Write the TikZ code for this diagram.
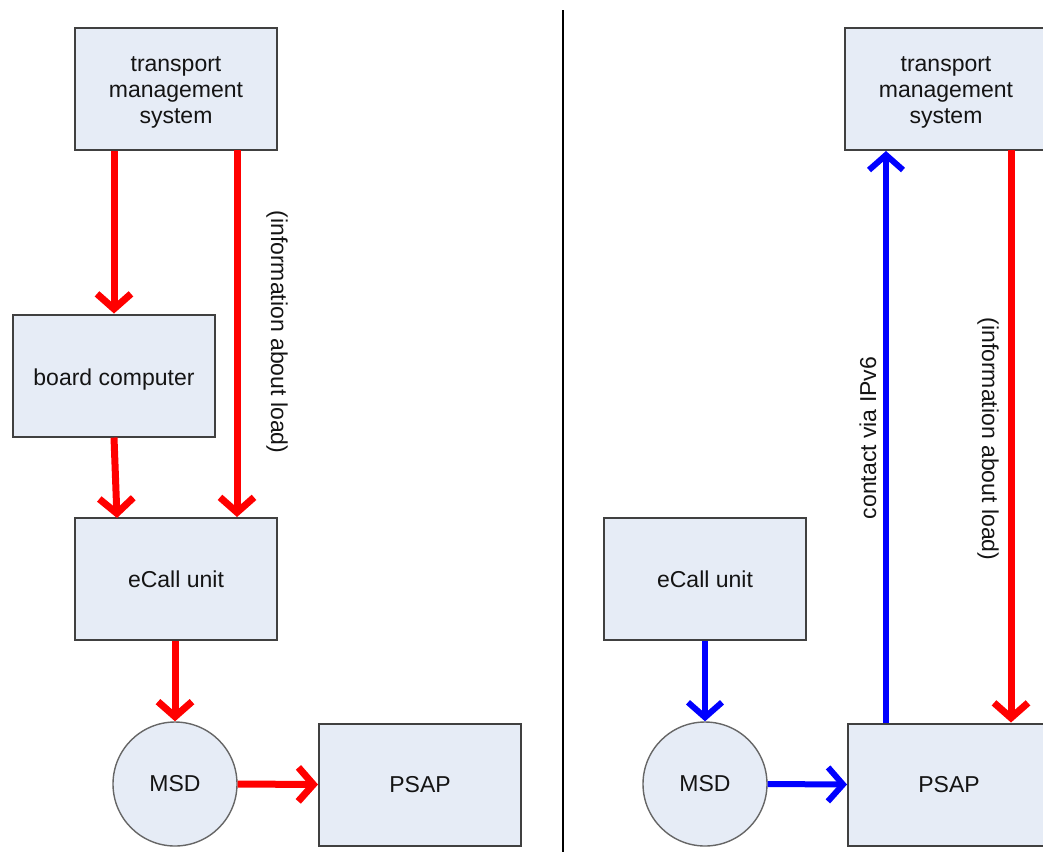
\documentclass[tikz,border=0pt]{standalone}
\usepackage{fontspec}
\setmainfont{Liberation Sans}
\usetikzlibrary{arrows.meta,calc}
\definecolor{boxfill}{HTML}{E6ECF6}
\definecolor{boxline}{HTML}{404040}
\definecolor{txt}{HTML}{141414}
\newcommand{\stacklines}[1]{\raisebox{-10pt}[0pt][0pt]{\begin{tabular}{@{}c@{}}#1\end{tabular}}}
\newcommand{\lowline}[1]{\raisebox{-9.5pt}[0pt][0pt]{#1}}
\begin{document}
\begin{tikzpicture}[x=1pt,y=-1pt,
  font=\fontsize{23}{26}\selectfont,
  block/.style={draw=boxline,line width=2pt,fill=boxfill,text=txt,
    minimum width=202pt,minimum height=122pt,inner sep=0pt,align=center},
  msd/.style={circle,draw=boxline!80,line width=1.4pt,fill=boxfill,text=txt,
    minimum size=124pt,inner sep=0pt},
  redarr/.style={draw=red,line width=7pt,
    -{Straight Barb[length=15pt,width=34pt]}},
  bluearr/.style={draw=blue,line width=6pt,
    -{Straight Barb[length=15pt,width=34pt]}},
  lbl/.style={text=txt,inner sep=0pt}]
\useasboundingbox (0,0) rectangle (1043,852);

% left half
\node[block] (tmsL) at (176,89) {\stacklines{transport\\management\\system}};
\node[block] (board) at (114,375.5) {\lowline{board computer}};
\node[block] (ecallL) at (176,579) {eCall unit};
\node[msd] (msdL) at (175,784) {MSD};
\node[block] (psapL) at (420,784.5) {PSAP};

\coordinate (infoL) at (237,150);
\coordinate (boardIn) at (117,518);
\draw[redarr] (board.north |- tmsL.south) -- (board.north);
\draw[redarr] (infoL) -- (infoL |- ecallL.north);
\draw[redarr] (board.south) -- (boardIn);
\draw[redarr] (msdL.north |- ecallL.south) -- (msdL.north);
\draw[redarr] (msdL.east) -- (psapL.west);
\node[lbl,rotate=-90] (loadL) at (277,332) {(information about load)};

% divider
\coordinate (divTop) at (563,10);
\coordinate (divBot) at (563,852);
\draw[line width=1.6pt,black] (divTop) -- (divBot);

% right half
\node[block] (tmsR) at (946,89) {\stacklines{transport\\management\\system}};
\node[block] (ecallR) at (705,579) {eCall unit};
\node[msd] (msdR) at (705,784) {MSD};
\node[block] (psapR) at (949,784.5) {PSAP};

\coordinate (ipUp) at (886,723);
\coordinate (infoR) at (1011,150);
\draw[bluearr] (msdR.north |- ecallR.south) -- (msdR.north);
\draw[bluearr] (msdR.east) -- (psapR.west);
\draw[bluearr] (ipUp) -- (ipUp |- tmsR.south);
\draw[redarr] (infoR) -- (infoR |- psapR.north);
\node[lbl,rotate=90] (ipv6) at (868,438) {contact via IPv6};
\node[lbl,rotate=-90] (loadR) at (988,439) {(information about load)};
\end{tikzpicture}
\end{document}
